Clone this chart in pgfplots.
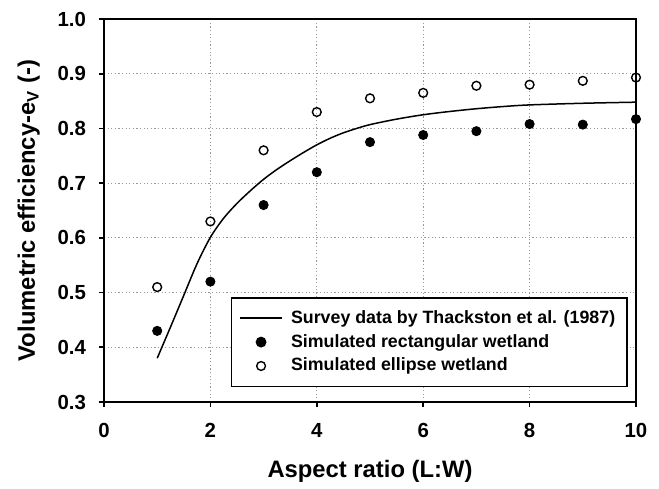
\documentclass[border=0pt]{standalone}
\usepackage{fontspec}
\setmainfont{Liberation Sans}
\usepackage{pgfplots}
\pgfplotsset{compat=1.18}
\begin{document}
\begin{tikzpicture}
\begin{axis}[
  name=ax, at={(0,0)}, anchor=south west,
  scale only axis, width=266pt, height=191.5pt,
  xmin=0, xmax=10, ymin=0.3, ymax=1.0,
  xtick={0,2,4,6,8,10},
  ytick={0.3,0.4,0.5,0.6,0.7,0.8,0.9,1.0},
  axis line style={line width=1pt},
  tick style={line width=0.8pt, black},
  tick align=outside, major tick length=2.5pt,
  xtick pos=bottom, ytick pos=left,
  grid=major, grid style={gray!80, line width=0.6pt, dash pattern=on 0.6pt off 1.2pt},
  ticklabel style={font=\bfseries\fontsize{10.2}{12}\selectfont},
  /pgf/number format/assume math mode=true,
  yticklabel style={xshift=-3pt, /pgf/number format/.cd, fixed, fixed zerofill, precision=1},
  xticklabel style={yshift=-4.5pt},
  xlabel={Aspect ratio (L:W)},
  ylabel={Volumetric efficiency-e\textsubscript{V} (-)},
  label style={font=\bfseries\fontsize{11.9}{14}\selectfont},
  xlabel style={at={(axis description cs:0.5,-0.196)}, anchor=base},
  ylabel style={at={(axis description cs:-0.1297,0.5)}, anchor=base},
  clip=false,
  legend style={at={(0.985,0.274)}, anchor=north east, draw=black, line width=0.8pt,
    font=\bfseries\fontsize{8.9}{10}\selectfont, cells={anchor=west},
    row sep=0pt, inner xsep=4pt, inner ysep=4.2pt},
  legend image code/.code={\draw[mark repeat=2, mark phase=2, #1] plot coordinates {(0pt,0pt) (10.5pt,0pt) (21pt,0pt)}; \path[draw=none, fill=none] (0pt,0pt) -- (23.5pt,0pt);},
]
\addplot[black, line width=0.75pt, smooth, no marks] coordinates {
(1,0.38) (1.25,0.437) (1.5,0.495) (1.75,0.553) (2,0.601) (2.25,0.636) (2.5,0.663)
(2.75,0.686) (3,0.707) (3.25,0.725) (3.5,0.741) (3.75,0.756) (4,0.770) (4.25,0.782)
(4.5,0.792) (4.75,0.800) (5,0.807) (5.5,0.817) (6,0.825) (6.5,0.831) (7,0.836)
(7.5,0.840) (8,0.843) (9,0.846) (10,0.848)};
\addlegendentry{Survey data by Thackston et al. (1987)}
\addplot[only marks, mark=*, mark size=2.3pt, black, mark options={fill=black}] coordinates {
(1,0.43) (2,0.52) (3,0.66) (4,0.72) (5,0.775) (6,0.788) (7,0.795) (8,0.808) (9,0.807) (10,0.817)};
\addlegendentry{Simulated rectangular wetland}
\addplot[only marks, mark=o, mark size=2.2pt, black, mark options={line width=0.7pt, fill=white}] coordinates {
(1,0.51) (2,0.63) (3,0.76) (4,0.83) (5,0.855) (6,0.865) (7,0.878) (8,0.88) (9,0.887) (10,0.893)};
\addlegendentry{Simulated ellipse wetland}
\end{axis}
\path (ax.south west) ++(-52pt,-39pt) rectangle ++(329.5pt,240pt);
\end{tikzpicture}
\end{document}
